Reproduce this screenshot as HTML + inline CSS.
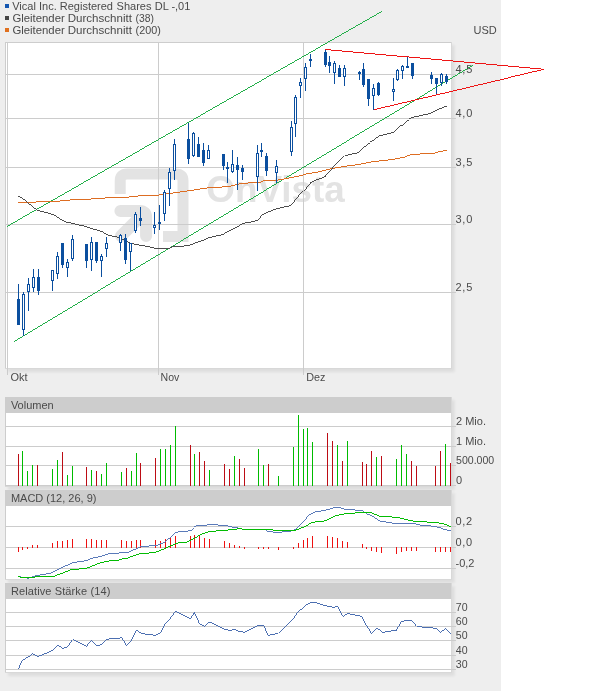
<!DOCTYPE html>
<html lang="de">
<head>
<meta charset="utf-8">
<title>Vical Inc. Registered Shares DL -,01 – Chart</title>
<style>
html,body{margin:0;padding:0;background:#ffffff;}
body{width:614px;height:691px;overflow:hidden;font-family:'Liberation Sans', Arial, sans-serif;}
svg{display:block;}
</style>
</head>
<body>
<svg width="614" height="691" viewBox="0 0 614 691" font-family="'Liberation Sans', Arial, sans-serif" font-size="11" fill="#4a4a4a">
<defs>
<filter id="sh" x="-5%" y="-5%" width="115%" height="115%"><feGaussianBlur stdDeviation="1.5"/></filter>
</defs>
<rect x="0" y="0" width="614" height="691" fill="#ffffff"/>
<rect x="0" y="0" width="501" height="691" fill="#eeeeee"/>
<rect x="5" y="4" width="4" height="4" fill="#1557b0"/>
<text y="10" xml:space="preserve"><tspan x="12.2">Vical</tspan><tspan font-size="1"> </tspan><tspan x="39.0">Inc.</tspan><tspan font-size="1"> </tspan><tspan x="59.8">Registered</tspan><tspan font-size="1"> </tspan><tspan x="116.6">Shares</tspan><tspan font-size="1"> </tspan><tspan x="154.8">DL</tspan><tspan font-size="1"> </tspan><tspan x="171.4">-,01</tspan></text>
<rect x="5" y="16" width="4" height="4" fill="#444444"/>
<text y="22" xml:space="preserve"><tspan x="12.4" textLength="52.4" lengthAdjust="spacingAndGlyphs">Gleitender</tspan><tspan font-size="1"> </tspan><tspan x="67.7" textLength="64.2" lengthAdjust="spacingAndGlyphs">Durchschnitt</tspan><tspan font-size="1"> </tspan><tspan x="135.6" textLength="18.4" lengthAdjust="spacingAndGlyphs">(38)</tspan></text>
<rect x="5" y="28" width="4" height="4" fill="#e0701e"/>
<text y="34" xml:space="preserve"><tspan x="12.4" textLength="52.4" lengthAdjust="spacingAndGlyphs">Gleitender</tspan><tspan font-size="1"> </tspan><tspan x="67.7" textLength="64.2" lengthAdjust="spacingAndGlyphs">Durchschnitt</tspan><tspan font-size="1"> </tspan><tspan x="135.6" textLength="25.2" lengthAdjust="spacingAndGlyphs">(200)</tspan></text>
<text x="473.5" y="34">USD</text>
<rect x="8" y="45" width="446.5" height="327" fill="#000" opacity="0.07" filter="url(#sh)"/>
<rect x="5" y="42" width="447" height="327" fill="#d8d8d8"/>
<rect x="5" y="42" width="446" height="326" fill="#cdcdcd"/>
<rect x="6" y="43" width="445" height="325" fill="#ffffff"/>
<g fill="none" stroke="#e3e3e3" stroke-width="11">
<path d="M120.2,194 V181 Q120.2,174 127.2,174 H176 Q183,174 183,181 V236.5 H163"/>
<path d="M120.4,211 H139.5 Q146.1,211 146.1,217.5 V236" stroke-linecap="round" stroke-width="12"/>
<path d="M143,214 L121,236" stroke-linecap="round" stroke-width="12"/>
</g>
<text x="206.3" y="202" font-size="36" font-weight="bold" fill="#e3e3e3" textLength="138.4" lengthAdjust="spacingAndGlyphs">OnVista</text>
<rect x="6" y="74.0" width="450" height="1" fill="#cccccc"/>
<rect x="6" y="118.0" width="450" height="1" fill="#cccccc"/>
<rect x="6" y="167.0" width="450" height="1" fill="#cccccc"/>
<rect x="6" y="224.0" width="450" height="1" fill="#cccccc"/>
<rect x="6" y="292.0" width="450" height="1" fill="#cccccc"/>
<rect x="7.0" y="43" width="1" height="332" fill="#cccccc"/>
<rect x="158.0" y="43" width="1" height="332" fill="#cccccc"/>
<rect x="303.0" y="43" width="1" height="332" fill="#cccccc"/>
<g fill="none" stroke-width="0.99" shape-rendering="crispEdges">
<line x1="14.2" y1="341.6" x2="473" y2="65.2" stroke="#1fae47"/>
<line x1="7.3" y1="226.3" x2="381.9" y2="11.35" stroke="#1fae47"/>
<polyline points="18.0,202.4 35.2,202.4 36.6,201.5 58.6,201.5 60.1,200.7 68.9,200.2 71.8,199.4 88.0,199.2 103.5,198.1 105.0,197.3 126.9,197.3 138.6,195.9 156.2,195.4 169.0,193.5 191.0,190.5 207.2,187.9 215.0,187.6 229.7,186.3 240.4,183.7 249.2,182.9 260.0,182.2 263.9,180.8 276.3,180.4 288.0,178.3 301.2,175.6 305.9,174.0 319.0,171.8 333.7,168.2 344.0,166.4 358.6,164.5 373.3,161.6 385.9,160.2 394.7,159.2 403.5,157.1 410.0,154.5 418.1,154.5 422.5,153.5 432.8,153.5 438.6,151.9 446.7,150.1" stroke="#dd6b1f"/>
<polyline points="18.0,196.1 22.0,197.9 27.1,202.0 32.2,206.4 37.4,210.1 40.3,211.2 50.6,213.7 55.7,215.9 60.8,219.3 66.0,222.1 71.8,223.2 79.9,225.1 85.9,226.6 93.2,229.1 102.0,231.5 107.1,234.7 112.2,236.1 119.6,237.6 125.4,240.5 130.6,243.2 138.6,244.9 148.9,246.8 157.7,248.9 168.8,248.3 174.7,246.2 182.0,246.2 189.3,245.5 198.1,241.8 204.0,240.1 209.8,237.4 223.0,234.5 228.9,230.8 236.2,227.6 242.1,223.8 246.5,222.5 250.0,222.3 257.6,220.4 262.0,215.2 269.3,211.6 276.7,208.7 291.3,205.4 295.7,199.1 303.0,191.1 310.4,182.5 316.2,180.1 325.0,176.7 329.4,171.2 336.6,163.8 344.7,155.7 348.4,155.0 358.6,152.5 364.5,146.2 370.4,141.8 373.3,140.3 379.2,135.9 385.0,134.5 393.2,132.5 400.5,125.9 409.3,118.6 413.7,117.1 421.6,115.4 429.8,113.5 438.6,109.3 446.7,106.1" stroke="#4a4a4a"/>
</g>
<g fill="#0b4f9f" shape-rendering="crispEdges">
<rect x="18" y="284" width="1" height="41"/>
<rect x="17" y="299" width="3" height="26"/>
<rect x="23" y="292" width="1" height="44"/>
<rect x="22" y="294" width="3" height="36"/>
<rect x="23" y="295" width="1" height="34" fill="#ffffff"/>
<rect x="28" y="278" width="1" height="33"/>
<rect x="27" y="284" width="3" height="8"/>
<rect x="28" y="285" width="1" height="6" fill="#ffffff"/>
<rect x="33" y="269" width="1" height="23"/>
<rect x="32" y="277" width="3" height="11"/>
<rect x="33" y="278" width="1" height="9" fill="#ffffff"/>
<rect x="38" y="269" width="1" height="26"/>
<rect x="37" y="277" width="3" height="14"/>
<rect x="52" y="270" width="1" height="21"/>
<rect x="51" y="270" width="3" height="11"/>
<rect x="52" y="271" width="1" height="9" fill="#ffffff"/>
<rect x="57" y="252" width="1" height="27"/>
<rect x="56" y="256" width="3" height="18"/>
<rect x="57" y="257" width="1" height="16" fill="#ffffff"/>
<rect x="62" y="243" width="1" height="25"/>
<rect x="61" y="243" width="3" height="22"/>
<rect x="67" y="259" width="1" height="18"/>
<rect x="66" y="262" width="3" height="6"/>
<rect x="67" y="263" width="1" height="4" fill="#ffffff"/>
<rect x="72" y="235" width="1" height="26"/>
<rect x="71" y="239" width="3" height="20"/>
<rect x="72" y="240" width="1" height="18" fill="#ffffff"/>
<rect x="86" y="244" width="1" height="24"/>
<rect x="85" y="244" width="3" height="17"/>
<rect x="91" y="237" width="1" height="34"/>
<rect x="90" y="242" width="3" height="18"/>
<rect x="91" y="243" width="1" height="16" fill="#ffffff"/>
<rect x="96" y="242" width="1" height="21"/>
<rect x="95" y="242" width="3" height="19"/>
<rect x="101" y="254" width="1" height="23"/>
<rect x="100" y="256" width="3" height="5"/>
<rect x="101" y="257" width="1" height="3" fill="#ffffff"/>
<rect x="106" y="237" width="1" height="20"/>
<rect x="105" y="243" width="3" height="6"/>
<rect x="106" y="244" width="1" height="4" fill="#ffffff"/>
<rect x="120" y="234" width="1" height="17"/>
<rect x="119" y="235" width="3" height="8"/>
<rect x="120" y="236" width="1" height="6" fill="#ffffff"/>
<rect x="125" y="234" width="1" height="30"/>
<rect x="124" y="238" width="3" height="22"/>
<rect x="130" y="243" width="1" height="28"/>
<rect x="129" y="243" width="3" height="9"/>
<rect x="130" y="244" width="1" height="7" fill="#ffffff"/>
<rect x="135" y="212" width="1" height="21"/>
<rect x="134" y="214" width="3" height="17"/>
<rect x="135" y="215" width="1" height="15" fill="#ffffff"/>
<rect x="140" y="207" width="1" height="19"/>
<rect x="139" y="218" width="3" height="3"/>
<rect x="154" y="212" width="1" height="22"/>
<rect x="153" y="225" width="3" height="3"/>
<rect x="154" y="226" width="1" height="1" fill="#ffffff"/>
<rect x="159" y="205" width="1" height="25"/>
<rect x="158" y="222" width="3" height="2"/>
<rect x="164" y="190" width="1" height="31"/>
<rect x="163" y="192" width="3" height="22"/>
<rect x="164" y="193" width="1" height="20" fill="#ffffff"/>
<rect x="169" y="168" width="1" height="38"/>
<rect x="168" y="172" width="3" height="17"/>
<rect x="169" y="173" width="1" height="15" fill="#ffffff"/>
<rect x="174" y="139" width="1" height="41"/>
<rect x="173" y="144" width="3" height="27"/>
<rect x="174" y="145" width="1" height="25" fill="#ffffff"/>
<rect x="188" y="123" width="1" height="41"/>
<rect x="187" y="139" width="3" height="20"/>
<rect x="193" y="132" width="1" height="25"/>
<rect x="192" y="133" width="3" height="23"/>
<rect x="193" y="134" width="1" height="21" fill="#ffffff"/>
<rect x="198" y="137" width="1" height="20"/>
<rect x="197" y="144" width="3" height="13"/>
<rect x="203" y="143" width="1" height="23"/>
<rect x="202" y="150" width="3" height="13"/>
<rect x="208" y="145" width="1" height="14"/>
<rect x="207" y="150" width="3" height="9"/>
<rect x="208" y="151" width="1" height="7" fill="#ffffff"/>
<rect x="223" y="154" width="1" height="16"/>
<rect x="222" y="154" width="3" height="12"/>
<rect x="227" y="162" width="1" height="21"/>
<rect x="226" y="167" width="3" height="2"/>
<rect x="232" y="150" width="1" height="23"/>
<rect x="231" y="164" width="3" height="8"/>
<rect x="232" y="165" width="1" height="6" fill="#ffffff"/>
<rect x="237" y="157" width="1" height="33"/>
<rect x="236" y="165" width="3" height="5"/>
<rect x="242" y="165" width="1" height="15"/>
<rect x="241" y="168" width="3" height="4"/>
<rect x="257" y="145" width="1" height="46"/>
<rect x="256" y="153" width="3" height="24"/>
<rect x="257" y="154" width="1" height="22" fill="#ffffff"/>
<rect x="261" y="143" width="1" height="14"/>
<rect x="260" y="150" width="3" height="2"/>
<rect x="266" y="153" width="1" height="23"/>
<rect x="265" y="156" width="3" height="15"/>
<rect x="276" y="160" width="1" height="23"/>
<rect x="275" y="166" width="3" height="7"/>
<rect x="276" y="167" width="1" height="5" fill="#ffffff"/>
<rect x="291" y="121" width="1" height="35"/>
<rect x="290" y="127" width="3" height="25"/>
<rect x="291" y="128" width="1" height="23" fill="#ffffff"/>
<rect x="295" y="95" width="1" height="42"/>
<rect x="294" y="97" width="3" height="27"/>
<rect x="295" y="98" width="1" height="25" fill="#ffffff"/>
<rect x="300" y="78" width="1" height="20"/>
<rect x="299" y="82" width="3" height="4"/>
<rect x="300" y="83" width="1" height="2" fill="#ffffff"/>
<rect x="305" y="63" width="1" height="28"/>
<rect x="304" y="67" width="3" height="12"/>
<rect x="305" y="68" width="1" height="10" fill="#ffffff"/>
<rect x="310" y="54" width="1" height="13"/>
<rect x="309" y="59" width="3" height="2"/>
<rect x="325" y="50" width="1" height="17"/>
<rect x="324" y="52" width="3" height="13"/>
<rect x="329" y="56" width="1" height="17"/>
<rect x="328" y="62" width="3" height="4"/>
<rect x="334" y="61" width="1" height="23"/>
<rect x="333" y="63" width="3" height="10"/>
<rect x="334" y="64" width="1" height="8" fill="#ffffff"/>
<rect x="339" y="65" width="1" height="12"/>
<rect x="338" y="68" width="3" height="9"/>
<rect x="344" y="65" width="1" height="21"/>
<rect x="343" y="68" width="3" height="9"/>
<rect x="344" y="69" width="1" height="7" fill="#ffffff"/>
<rect x="359" y="71" width="1" height="9"/>
<rect x="358" y="72" width="3" height="2"/>
<rect x="363" y="63" width="1" height="24"/>
<rect x="362" y="69" width="3" height="16"/>
<rect x="368" y="79" width="1" height="27"/>
<rect x="367" y="79" width="3" height="20"/>
<rect x="373" y="84" width="1" height="26"/>
<rect x="372" y="88" width="3" height="8"/>
<rect x="373" y="89" width="1" height="6" fill="#ffffff"/>
<rect x="378" y="82" width="1" height="14"/>
<rect x="377" y="83" width="3" height="12"/>
<rect x="393" y="78" width="1" height="23"/>
<rect x="392" y="89" width="3" height="3"/>
<rect x="393" y="90" width="1" height="1" fill="#ffffff"/>
<rect x="397" y="69" width="1" height="12"/>
<rect x="396" y="70" width="3" height="10"/>
<rect x="397" y="71" width="1" height="8" fill="#ffffff"/>
<rect x="402" y="65" width="1" height="14"/>
<rect x="401" y="66" width="3" height="5"/>
<rect x="402" y="67" width="1" height="3" fill="#ffffff"/>
<rect x="407" y="57" width="1" height="11"/>
<rect x="406" y="66" width="3" height="2"/>
<rect x="412" y="63" width="1" height="16"/>
<rect x="411" y="63" width="3" height="13"/>
<rect x="431" y="72" width="1" height="12"/>
<rect x="430" y="75" width="3" height="4"/>
<rect x="436" y="78" width="1" height="16"/>
<rect x="435" y="78" width="3" height="6"/>
<rect x="441" y="73" width="1" height="13"/>
<rect x="440" y="74" width="3" height="9"/>
<rect x="441" y="75" width="1" height="7" fill="#ffffff"/>
<rect x="446" y="74" width="1" height="10"/>
<rect x="445" y="76" width="3" height="6"/>
</g>
<g fill="none" stroke="#ee1111" stroke-width="0.99" shape-rendering="crispEdges">
<line x1="325.2" y1="49.47" x2="544" y2="69.25"/>
<line x1="373.5" y1="109.6" x2="544" y2="69.25"/>
</g>
<text x="455.4" y="73.0" textLength="16.9" lengthAdjust="spacing">4,5</text>
<text x="455.4" y="117.0" textLength="16.9" lengthAdjust="spacing">4,0</text>
<text x="455.4" y="166.0" textLength="16.9" lengthAdjust="spacing">3,5</text>
<text x="455.4" y="223.0" textLength="16.9" lengthAdjust="spacing">3,0</text>
<text x="455.4" y="291.0" textLength="16.9" lengthAdjust="spacing">2,5</text>
<text x="10.5" y="381" textLength="17.1" lengthAdjust="spacingAndGlyphs">Okt</text>
<text x="160.6" y="381" textLength="18.8" lengthAdjust="spacingAndGlyphs">Nov</text>
<text x="306.2" y="381" textLength="19.2" lengthAdjust="spacingAndGlyphs">Dez</text>
<rect x="8" y="400" width="446.5" height="90" fill="#000" opacity="0.07" filter="url(#sh)"/>
<rect x="5" y="397" width="447" height="90" fill="#d8d8d8"/>
<rect x="5" y="397" width="446" height="89" fill="#cdcdcd"/>
<rect x="6" y="413" width="445" height="73" fill="#ffffff"/>
<text x="10.9" y="408.8">Volumen</text>
<rect x="6" y="426.0" width="450" height="1" fill="#cccccc"/>
<rect x="6" y="446.0" width="450" height="1" fill="#cccccc"/>
<rect x="6" y="465.0" width="450" height="1" fill="#cccccc"/>
<rect x="6" y="485" width="450" height="1" fill="#cccccc"/>
<text x="456" y="424.9">2 Mio.</text>
<text x="456" y="444.9">1 Mio.</text>
<text x="456" y="463.9" textLength="38.2" lengthAdjust="spacingAndGlyphs">500.000</text>
<text x="456" y="483.9">0</text>
<g shape-rendering="crispEdges">
<rect x="18" y="454" width="1" height="32" fill="#bc0c14"/>
<rect x="22" y="451" width="1" height="35" fill="#00bb00"/>
<rect x="27" y="471" width="1" height="15" fill="#00bb00"/>
<rect x="32" y="465" width="1" height="21" fill="#00bb00"/>
<rect x="37" y="465" width="1" height="21" fill="#bc0c14"/>
<rect x="52" y="469" width="1" height="17" fill="#00bb00"/>
<rect x="57" y="460" width="1" height="26" fill="#00bb00"/>
<rect x="62" y="452" width="1" height="34" fill="#bc0c14"/>
<rect x="67" y="475" width="1" height="11" fill="#00bb00"/>
<rect x="72" y="466" width="1" height="20" fill="#00bb00"/>
<rect x="86" y="467" width="1" height="19" fill="#bc0c14"/>
<rect x="91" y="470" width="1" height="16" fill="#00bb00"/>
<rect x="96" y="471" width="1" height="15" fill="#bc0c14"/>
<rect x="101" y="474" width="1" height="12" fill="#00bb00"/>
<rect x="106" y="463" width="1" height="23" fill="#00bb00"/>
<rect x="121" y="472" width="1" height="14" fill="#00bb00"/>
<rect x="126" y="468" width="1" height="18" fill="#bc0c14"/>
<rect x="131" y="471" width="1" height="15" fill="#00bb00"/>
<rect x="136" y="453" width="1" height="33" fill="#00bb00"/>
<rect x="140" y="463" width="1" height="23" fill="#bc0c14"/>
<rect x="155" y="458" width="1" height="28" fill="#bc0c14"/>
<rect x="160" y="449" width="1" height="37" fill="#00bb00"/>
<rect x="165" y="449" width="1" height="37" fill="#00bb00"/>
<rect x="170" y="445" width="1" height="41" fill="#00bb00"/>
<rect x="175" y="426" width="1" height="60" fill="#00bb00"/>
<rect x="190" y="445" width="1" height="41" fill="#bc0c14"/>
<rect x="194" y="454" width="1" height="32" fill="#00bb00"/>
<rect x="199" y="452" width="1" height="34" fill="#bc0c14"/>
<rect x="204" y="461" width="1" height="25" fill="#bc0c14"/>
<rect x="209" y="470" width="1" height="16" fill="#00bb00"/>
<rect x="224" y="464" width="1" height="22" fill="#bc0c14"/>
<rect x="229" y="469" width="1" height="17" fill="#bc0c14"/>
<rect x="234" y="456" width="1" height="30" fill="#00bb00"/>
<rect x="239" y="459" width="1" height="27" fill="#bc0c14"/>
<rect x="244" y="468" width="1" height="18" fill="#bc0c14"/>
<rect x="258" y="449" width="1" height="37" fill="#00bb00"/>
<rect x="263" y="465" width="1" height="21" fill="#00bb00"/>
<rect x="268" y="464" width="1" height="22" fill="#bc0c14"/>
<rect x="278" y="476" width="1" height="10" fill="#00bb00"/>
<rect x="293" y="447" width="1" height="39" fill="#00bb00"/>
<rect x="298" y="415" width="1" height="71" fill="#00bb00"/>
<rect x="303" y="429" width="1" height="57" fill="#00bb00"/>
<rect x="307" y="428" width="1" height="58" fill="#00bb00"/>
<rect x="312" y="442" width="1" height="44" fill="#00bb00"/>
<rect x="327" y="433" width="1" height="53" fill="#bc0c14"/>
<rect x="332" y="441" width="1" height="45" fill="#bc0c14"/>
<rect x="337" y="445" width="1" height="41" fill="#00bb00"/>
<rect x="342" y="461" width="1" height="25" fill="#bc0c14"/>
<rect x="347" y="441" width="1" height="45" fill="#00bb00"/>
<rect x="362" y="462" width="1" height="24" fill="#bc0c14"/>
<rect x="366" y="464" width="1" height="22" fill="#bc0c14"/>
<rect x="371" y="451" width="1" height="35" fill="#bc0c14"/>
<rect x="376" y="457" width="1" height="29" fill="#00bb00"/>
<rect x="381" y="456" width="1" height="30" fill="#bc0c14"/>
<rect x="396" y="459" width="1" height="27" fill="#00bb00"/>
<rect x="401" y="445" width="1" height="41" fill="#00bb00"/>
<rect x="406" y="454" width="1" height="32" fill="#00bb00"/>
<rect x="411" y="461" width="1" height="25" fill="#bc0c14"/>
<rect x="416" y="466" width="1" height="20" fill="#bc0c14"/>
<rect x="435" y="466" width="1" height="20" fill="#bc0c14"/>
<rect x="440" y="451" width="1" height="35" fill="#bc0c14"/>
<rect x="445" y="444" width="1" height="42" fill="#00bb00"/>
<rect x="450" y="463" width="1" height="23" fill="#bc0c14"/>
</g>
<rect x="8" y="493" width="446.5" height="90" fill="#000" opacity="0.07" filter="url(#sh)"/>
<rect x="5" y="490" width="447" height="90" fill="#d8d8d8"/>
<rect x="5" y="490" width="446" height="89" fill="#cdcdcd"/>
<rect x="6" y="506" width="445" height="73" fill="#ffffff"/>
<text x="10.9" y="501.8">MACD (12, 26, 9)</text>
<rect x="6" y="526.0" width="450" height="1" fill="#cccccc"/>
<rect x="6" y="547.0" width="450" height="1" fill="#cccccc"/>
<rect x="6" y="568.0" width="450" height="1" fill="#cccccc"/>
<text x="455.6" y="524.9" textLength="16.4" lengthAdjust="spacing">0,2</text>
<text x="455.6" y="545.9" textLength="16.4" lengthAdjust="spacing">0,0</text>
<text x="455.6" y="566.9" textLength="18.8" lengthAdjust="spacing">-0,2</text>
<g shape-rendering="crispEdges">
<rect x="18" y="547" width="1" height="5" fill="#ee1111"/>
<rect x="22" y="547" width="1" height="3" fill="#ee1111"/>
<rect x="27" y="547" width="1" height="2" fill="#ee1111"/>
<rect x="32" y="545" width="1" height="3" fill="#ee1111"/>
<rect x="37" y="545" width="1" height="3" fill="#ee1111"/>
<rect x="52" y="543" width="1" height="5" fill="#ee1111"/>
<rect x="57" y="541" width="1" height="7" fill="#ee1111"/>
<rect x="62" y="541" width="1" height="7" fill="#ee1111"/>
<rect x="67" y="540" width="1" height="8" fill="#ee1111"/>
<rect x="72" y="539" width="1" height="9" fill="#ee1111"/>
<rect x="86" y="539" width="1" height="9" fill="#ee1111"/>
<rect x="91" y="539" width="1" height="9" fill="#ee1111"/>
<rect x="96" y="540" width="1" height="8" fill="#ee1111"/>
<rect x="101" y="540" width="1" height="8" fill="#ee1111"/>
<rect x="106" y="540" width="1" height="8" fill="#ee1111"/>
<rect x="121" y="540" width="1" height="8" fill="#ee1111"/>
<rect x="126" y="541" width="1" height="7" fill="#ee1111"/>
<rect x="131" y="541" width="1" height="7" fill="#ee1111"/>
<rect x="136" y="540" width="1" height="8" fill="#ee1111"/>
<rect x="140" y="540" width="1" height="8" fill="#ee1111"/>
<rect x="155" y="540" width="1" height="8" fill="#ee1111"/>
<rect x="160" y="541" width="1" height="7" fill="#ee1111"/>
<rect x="165" y="539" width="1" height="9" fill="#ee1111"/>
<rect x="170" y="538" width="1" height="10" fill="#ee1111"/>
<rect x="175" y="536" width="1" height="12" fill="#ee1111"/>
<rect x="190" y="536" width="1" height="12" fill="#ee1111"/>
<rect x="194" y="535" width="1" height="13" fill="#ee1111"/>
<rect x="199" y="536" width="1" height="12" fill="#ee1111"/>
<rect x="204" y="538" width="1" height="10" fill="#ee1111"/>
<rect x="209" y="539" width="1" height="9" fill="#ee1111"/>
<rect x="224" y="541" width="1" height="7" fill="#ee1111"/>
<rect x="229" y="543" width="1" height="5" fill="#ee1111"/>
<rect x="234" y="545" width="1" height="3" fill="#ee1111"/>
<rect x="239" y="546" width="1" height="2" fill="#ee1111"/>
<rect x="244" y="547" width="1" height="2" fill="#ee1111"/>
<rect x="258" y="547" width="1" height="2" fill="#ee1111"/>
<rect x="263" y="547" width="1" height="2" fill="#ee1111"/>
<rect x="268" y="547" width="1" height="2" fill="#ee1111"/>
<rect x="278" y="547" width="1" height="3" fill="#ee1111"/>
<rect x="293" y="547" width="1" height="2" fill="#ee1111"/>
<rect x="298" y="543" width="1" height="5" fill="#ee1111"/>
<rect x="303" y="540" width="1" height="8" fill="#ee1111"/>
<rect x="307" y="538" width="1" height="10" fill="#ee1111"/>
<rect x="312" y="536" width="1" height="12" fill="#ee1111"/>
<rect x="327" y="536" width="1" height="12" fill="#ee1111"/>
<rect x="332" y="537" width="1" height="11" fill="#ee1111"/>
<rect x="337" y="538" width="1" height="10" fill="#ee1111"/>
<rect x="342" y="541" width="1" height="7" fill="#ee1111"/>
<rect x="347" y="542" width="1" height="6" fill="#ee1111"/>
<rect x="362" y="544" width="1" height="4" fill="#ee1111"/>
<rect x="366" y="547" width="1" height="2" fill="#ee1111"/>
<rect x="371" y="547" width="1" height="4" fill="#ee1111"/>
<rect x="376" y="547" width="1" height="5" fill="#ee1111"/>
<rect x="381" y="547" width="1" height="6" fill="#ee1111"/>
<rect x="396" y="547" width="1" height="7" fill="#ee1111"/>
<rect x="401" y="547" width="1" height="5" fill="#ee1111"/>
<rect x="406" y="547" width="1" height="4" fill="#ee1111"/>
<rect x="411" y="547" width="1" height="4" fill="#ee1111"/>
<rect x="416" y="547" width="1" height="4" fill="#ee1111"/>
<rect x="435" y="547" width="1" height="5" fill="#ee1111"/>
<rect x="440" y="547" width="1" height="5" fill="#ee1111"/>
<rect x="445" y="547" width="1" height="5" fill="#ee1111"/>
<rect x="450" y="547" width="1" height="5" fill="#ee1111"/>
</g>
<polyline points="18.4,576.4 28.1,578.3 34.6,576.0 50.6,573.2 61.8,567.6 73.0,562.5 86.2,560.7 91.8,558.2 101.1,556.4 106.8,554.1 112.0,553.5 117.5,553.6 119.4,552.6 128.7,552.2 140.9,546.6 147.5,546.6 149.3,545.5 156.8,545.5 164.3,542.3 169.0,538.6 175.6,532.6 179.3,531.5 185.9,531.5 190.5,530.1 194.3,526.4 198.0,525.5 205.5,525.1 208.3,524.1 215.8,524.1 217.7,525.1 226.6,525.5 228.4,526.4 236.9,527.7 242.5,529.2 265.0,529.6 267.8,531.5 272.4,531.5 274.3,532.6 280.9,532.6 282.7,531.5 289.3,531.5 295.5,529.6 301.5,523.6 309.0,515.2 314.2,512.2 321.1,510.9 328.6,509.5 332.4,508.2 334.7,507.3 338.4,507.3 345.0,509.2 354.3,509.5 356.2,510.5 362.8,510.9 367.5,514.2 375.0,518.0 380.6,521.3 386.2,522.1 393.7,523.2 414.3,523.6 421.8,525.5 431.1,526.0 438.6,527.3 445.0,529.6 450.6,530.7" fill="none" stroke="#5878b8" stroke-width="0.99" shape-rendering="crispEdges"/>
<polyline points="18.4,576.0 20.6,577.5 33.7,577.5 37.5,576.4 53.4,576.4 59.9,574.2 71.2,569.5 86.2,568.5 101.1,562.5 108.6,561.0 117.5,560.1 119.4,559.2 126.9,558.6 130.6,556.7 138.1,554.5 140.9,553.2 147.5,553.2 149.3,552.2 155.9,552.2 166.2,547.9 175.6,543.6 180.2,542.3 186.8,542.3 194.3,538.6 201.8,533.9 209.3,531.5 214.9,531.5 217.7,530.5 226.6,530.5 229.4,529.2 236.9,529.2 239.7,528.3 242.5,529.2 265.0,529.2 272.4,529.6 274.3,530.5 294.9,530.5 298.7,529.2 304.3,526.8 311.8,522.6 317.4,521.7 323.0,521.2 326.8,520.2 330.0,518.5 336.6,515.5 345.0,513.8 348.7,513.3 354.3,513.3 356.2,512.3 367.5,512.3 374.0,513.8 380.6,516.5 388.1,516.5 394.6,517.4 398.4,517.4 404.9,519.3 414.3,521.3 425.5,521.7 427.4,522.6 437.7,522.6 445.0,524.3 450.6,526.8" fill="none" stroke="#00bb00" stroke-width="0.99" shape-rendering="crispEdges"/>
<rect x="8" y="586" width="446.5" height="90" fill="#000" opacity="0.07" filter="url(#sh)"/>
<rect x="5" y="583" width="447" height="90" fill="#d8d8d8"/>
<rect x="5" y="583" width="446" height="89" fill="#cdcdcd"/>
<rect x="6" y="599" width="445" height="73" fill="#ffffff"/>
<text x="10.9" y="594.8" textLength="99.4" lengthAdjust="spacing">Relative Stärke (14)</text>
<rect x="6" y="612.0" width="450" height="1" fill="#cccccc"/>
<rect x="6" y="626.0" width="450" height="1" fill="#cccccc"/>
<rect x="6" y="640.0" width="450" height="1" fill="#cccccc"/>
<rect x="6" y="655.0" width="450" height="1" fill="#cccccc"/>
<rect x="6" y="669.0" width="450" height="1" fill="#cccccc"/>
<text x="455.8" y="610.7" textLength="11.8" lengthAdjust="spacingAndGlyphs">70</text>
<text x="455.8" y="624.7" textLength="11.8" lengthAdjust="spacingAndGlyphs">60</text>
<text x="455.8" y="638.7" textLength="11.8" lengthAdjust="spacingAndGlyphs">50</text>
<text x="455.8" y="653.7" textLength="11.8" lengthAdjust="spacingAndGlyphs">40</text>
<text x="455.8" y="667.7" textLength="11.8" lengthAdjust="spacingAndGlyphs">30</text>
<polyline points="18.4,669.0 22.5,659.8 27.5,656.8 32.4,653.7 37.5,656.4 52.4,650.2 57.5,645.6 62.4,648.4 67.4,647.1 72.5,639.6 86.3,646.5 91.4,640.3 96.5,645.6 101.3,644.2 106.4,639.6 111.4,638.6 117.5,638.6 121.4,637.1 126.5,645.6 131.5,640.3 136.4,630.2 140.5,633.0 145.6,634.3 150.3,634.3 155.3,635.6 160.4,633.0 164.3,625.0 170.3,618.4 175.4,611.3 190.5,618.8 194.5,612.4 199.3,623.5 204.4,626.3 209.5,622.1 224.5,629.6 229.6,630.6 234.4,629.3 239.5,631.5 244.3,632.4 258.4,625.3 263.5,625.3 268.3,635.3 273.4,634.3 278.4,633.4 285.6,625.9 293.4,619.0 298.5,610.9 303.5,606.2 307.5,603.4 312.5,602.1 317.4,603.4 327.5,606.2 332.5,607.5 337.5,606.2 342.5,616.1 347.6,613.3 352.5,614.7 358.1,615.6 362.4,616.5 366.5,625.0 371.4,633.4 376.5,628.3 381.5,632.4 386.2,631.5 391.8,630.9 396.5,630.0 401.4,621.6 406.4,620.3 411.5,620.3 416.5,626.3 421.8,627.2 429.2,627.4 435.5,628.3 440.4,632.8 445.5,628.3 451.0,634.0" fill="none" stroke="#4a6db0" stroke-width="0.99" shape-rendering="crispEdges"/>
</svg>
</body>
</html>
